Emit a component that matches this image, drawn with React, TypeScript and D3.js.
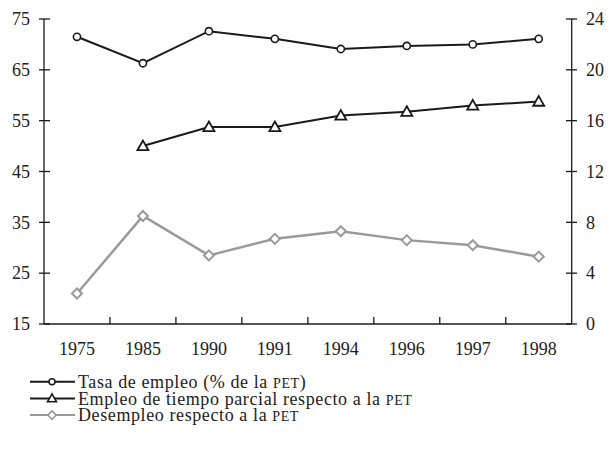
import React from "react";
import * as d3 from "d3";

const years = ["1975", "1985", "1990", "1991", "1994", "1996", "1997", "1998"];
const tasaEmpleo = [71.5, 66.3, 72.6, 71.1, 69.1, 69.7, 70.0, 71.1];
const tiempoParcial: (number | null)[] = [null, 14.0, 15.5, 15.5, 16.4, 16.7, 17.2, 17.5];
const desempleo = [2.4, 8.5, 5.4, 6.7, 7.3, 6.6, 6.2, 5.3];
const leftTicks = [15, 25, 35, 45, 55, 65, 75];
const rightTicks = [0, 4, 8, 12, 16, 20, 24];

const W = 610;
const H = 454;
const FONT = "Liberation Serif, DejaVu Serif, serif";

export default function App() {
  const x = d3.scaleBand().domain(years).range([44, 571.7]).padding(0);
  const cx = (y: string) => (x(y) || 0) + x.bandwidth() / 2;
  const yL = d3.scaleLinear().domain([15, 75]).range([324, 19]);
  const yR = d3.scaleLinear().domain([0, 24]).range([324, 19]);

  const lineL = d3.line<number>().x((_, i) => cx(years[i])).y((d) => yL(d));
  const lineR = d3
    .line<number | null>()
    .defined((d) => d != null)
    .x((_, i) => cx(years[i]))
    .y((d) => yR(d as number));

  const dark = "#1a1a1a";
  const grey = "#9a9a9a";
  const txt = { fontFamily: FONT, fill: "#222" };

  const tri = (px: number, py: number, s = 5.5) =>
    `M${px},${py - s} L${px + s},${py + s * 0.75} L${px - s},${py + s * 0.75} Z`;
  const dia = (px: number, py: number, s = 5) =>
    `M${px},${py - s} L${px + s},${py} L${px},${py + s} L${px - s},${py} Z`;

  const legend = [
    { label: "Tasa de empleo (% de la ", tail: ")", color: dark, mark: "circle" },
    { label: "Empleo de tiempo parcial respecto a la ", tail: "", color: dark, mark: "tri" },
    { label: "Desempleo respecto a la ", tail: "", color: grey, mark: "dia" },
  ];

  return (
    <svg
      width={W}
      height={H}
      style={{ position: "absolute", left: 0, top: 0, background: "#fff", fontFamily: FONT }}
    >
      {/* axes */}
      <line x1={44} x2={44} y1={19} y2={324} stroke={dark} strokeWidth={1.3} />
      <line x1={571.7} x2={571.7} y1={19} y2={324} stroke={dark} strokeWidth={1.3} />
      <line x1={44} x2={571.7} y1={324} y2={324} stroke={dark} strokeWidth={1.3} />
      {leftTicks.map((t) => (
        <g key={"l" + t}>
          <line x1={39} x2={50} y1={yL(t)} y2={yL(t)} stroke={dark} strokeWidth={1.3} />
          <text x={30} y={yL(t)} dy="0.35em" textAnchor="end" fontSize={18} style={txt}>
            {t}
          </text>
        </g>
      ))}
      {rightTicks.map((t) => (
        <g key={"r" + t}>
          <line x1={566} x2={577} y1={yR(t)} y2={yR(t)} stroke={dark} strokeWidth={1.3} />
          <text x={586} y={yR(t)} dy="0.35em" textAnchor="start" fontSize={18} style={txt}>
            {t}
          </text>
        </g>
      ))}
      {years.map((yr, i) => (
        <g key={"x" + yr}>
          {i > 0 && (
            <line
              x1={x(yr) || 0}
              x2={x(yr) || 0}
              y1={317}
              y2={324}
              stroke={dark}
              strokeWidth={1.3}
            />
          )}
          <text x={cx(yr)} y={355} textAnchor="middle" fontSize={18} style={txt}>
            {yr}
          </text>
        </g>
      ))}

      {/* series */}
      <path d={lineL(tasaEmpleo) || ""} fill="none" stroke={dark} strokeWidth={2} />
      <path d={lineR(tiempoParcial) || ""} fill="none" stroke={dark} strokeWidth={2} />
      <path d={lineR(desempleo) || ""} fill="none" stroke={grey} strokeWidth={2.5} />

      {tasaEmpleo.map((v, i) => (
        <circle
          key={"c" + i}
          cx={cx(years[i])}
          cy={yL(v)}
          r={3.6}
          fill="#fff"
          stroke={dark}
          strokeWidth={1.6}
        />
      ))}
      {tiempoParcial.map((v, i) =>
        v == null ? null : (
          <path
            key={"t" + i}
            d={tri(cx(years[i]), yR(v))}
            fill="#fff"
            stroke={dark}
            strokeWidth={1.8}
          />
        )
      )}
      {desempleo.map((v, i) => (
        <path
          key={"d" + i}
          d={dia(cx(years[i]), yR(v))}
          fill="#fff"
          stroke={grey}
          strokeWidth={2}
        />
      ))}

      {/* legend */}
      {legend.map((l, i) => {
        const ly = 381.7 + i * 16.7;
        return (
          <g key={"lg" + i}>
            <line x1={30} x2={75} y1={ly} y2={ly} stroke={l.color} strokeWidth={2} />
            {l.mark === "circle" && (
              <circle cx={52} cy={ly} r={3} fill="#fff" stroke={l.color} strokeWidth={1.5} />
            )}
            {l.mark === "tri" && (
              <path d={tri(52, ly, 4.5)} fill="#fff" stroke={l.color} strokeWidth={1.6} />
            )}
            {l.mark === "dia" && (
              <path d={dia(52, ly, 4.2)} fill="#fff" stroke={l.color} strokeWidth={1.6} />
            )}
            <text x={78} y={ly} dy="0.34em" fontSize={18} letterSpacing={0.6} style={txt}>
              {l.label}
              <tspan fontSize={14}>PET</tspan>
              {l.tail}
            </text>
          </g>
        );
      })}
    </svg>
  );
}
